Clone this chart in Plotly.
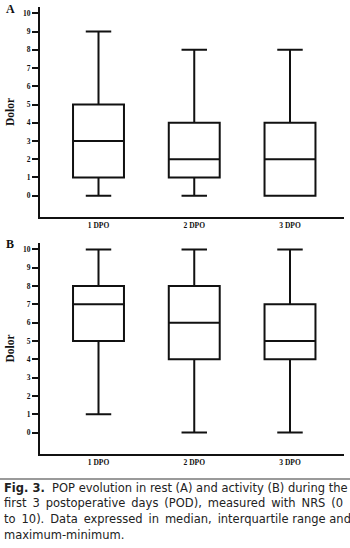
import plotly.graph_objects as go
from plotly.subplots import make_subplots

# Pain scores (NRS 0-10) per postoperative day
days = ["1 DPO", "2 DPO", "3 DPO"]

# Panel A: at rest
rest_min = [0, 0, 0]
rest_q1 = [1, 1, 0]
rest_median = [3, 2, 2]
rest_q3 = [5, 4, 4]
rest_max = [9, 8, 8]

# Panel B: during activity
act_min = [1, 0, 0]
act_q1 = [5, 4, 4]
act_median = [7, 6, 5]
act_q3 = [8, 8, 7]
act_max = [10, 10, 10]

y_ticks = list(range(0, 11))

W, H = 350, 548
M_L, M_R, M_T, M_B = 40, 6, 7, 94
PW = W - M_L - M_R
PH = H - M_T - M_B


def px_x(x):
    return (x - M_L) / PW


def px_y(y):
    return (H - M_B - y) / PH


fig = make_subplots(rows=2, cols=1, vertical_spacing=0.058)

panels = [
    (rest_min, rest_q1, rest_median, rest_q3, rest_max),
    (act_min, act_q1, act_median, act_q3, act_max),
]
for i, (lo, q1, med, q3, hi) in enumerate(panels, start=1):
    fig.add_trace(
        go.Box(
            x=days, lowerfence=lo, q1=q1, median=med, q3=q3, upperfence=hi,
            boxpoints=False, whiskerwidth=0.5,
            fillcolor="white", line=dict(color="#111111", width=2),
            showlegend=False, hoverinfo="skip",
        ),
        row=i, col=1,
    )

fig.update_layout(
    width=W, height=H,
    margin=dict(l=M_L, r=M_R, t=M_T, b=M_B),
    paper_bgcolor="white", plot_bgcolor="white",
    boxgap=0.24,
    showlegend=False,
)

axis_font = dict(family="Liberation Serif", size=7.5, color="#111111")
for r in (1, 2):
    fig.update_xaxes(
        row=r, col=1, range=[-0.611, 2.564], showgrid=False, zeroline=False,
        showline=True, linecolor="#111111", linewidth=2, ticks="",
        tickfont=axis_font, tickvals=days,
        ticktext=["<b>%s</b>" % d for d in days],
    )
    fig.update_yaxes(
        row=r, col=1, range=[-1.17, 10.35], showgrid=False, zeroline=False,
        showline=True, linecolor="#111111", linewidth=2,
        ticks="outside", ticklen=6, tickwidth=2, tickcolor="#111111",
        tickvals=y_ticks, ticktext=["<b>%d</b>" % v for v in y_ticks],
        tickfont=axis_font,
        title=dict(text="<b>Dolor</b>", standoff=6,
                   font=dict(family="Liberation Serif", size=11.5, color="#111111")),
    )

fig.layout.yaxis.domain = [px_y(217), 1.0]
fig.layout.yaxis2.domain = [0.0, px_y(243)]

annotations = [
    dict(text="<b>A</b>", x=px_x(4), y=px_y(9)),
    dict(text="<b>B</b>", x=px_x(4), y=px_y(244)),
]
for a in annotations:
    fig.add_annotation(
        xref="paper", yref="paper", xanchor="left", yanchor="middle",
        showarrow=False, font=dict(family="Liberation Serif", size=12, color="#111111"),
        **a,
    )


def spread(text, n_wide):
    """Join words, widening the first n_wide gaps with a thin space."""
    words = text.split(" ")
    out = words[0]
    for j, w in enumerate(words[1:]):
        out += (" \u2009" if j < n_wide else " ") + w
    return out


caption = [
    "<b>Fig. 3.</b>  POP evolution in rest (A) and activity (B) during the",
    spread("first 3 postoperative days (POD), measured with NRS (0", 9),
    spread("to 10). Data expressed in median, interquartile range and", 6),
    "maximum-minimum.",
]
for k, line in enumerate(caption):
    fig.add_annotation(
        xref="paper", yref="paper", x=px_x(2), y=px_y(488 + 15.5 * k),
        xanchor="left", yanchor="middle", showarrow=False, text=line,
        font=dict(family="DejaVu Sans", size=11.5, color="#222222"),
    )

fig.add_shape(
    type="line", xref="paper", yref="paper",
    x0=px_x(0), x1=px_x(W), y0=px_y(479), y1=px_y(479),
    line=dict(color="#9a9a9a", width=2),
)

fig.write_html("out.html")
